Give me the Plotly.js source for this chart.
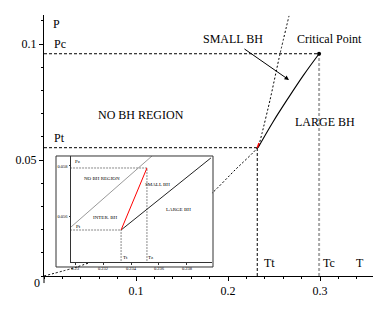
<!DOCTYPE html>
<html>
<head>
<meta charset="utf-8">
<script src="https://cdn.plot.ly/plotly-3.0.1.min.js"></script>
<style>html,body{margin:0;padding:0;background:#fff}#chart{width:390px;height:310px}</style>
</head>
<body>
<div id="chart"></div>
<script>
// ---- main chart data (T, P) ----
var tripleT = 0.2318, tripleP = 0.0553;
var critT = 0.299, critP = 0.0958;
// dashed boundary curve (T, P)
var dashT = [0, 0.0359, 0.1043, 0.1804, 0.2076, 0.2326, 0.2370, 0.2457, 0.2565, 0.2663];
var dashP = [0, 0.0039, 0.0142, 0.0349, 0.0457, 0.0556, 0.0616, 0.0759, 0.0957, 0.1121];
// solid coexistence curve small/large BH
var coexT = [0.2326, 0.2489, 0.2658, 0.2823, 0.2990];
var coexP = [0.0553, 0.0664, 0.0769, 0.0867, 0.0958];
// tiny red segment
var redT = [0.2318, 0.2337];
var redP = [0.0553, 0.0573];
// axis ticks
var xTicks = [0.1, 0.2, 0.3];
var yTicks = [0.05, 0.1];

// ---- inset data ----
var inTt = 0.23329, inPt = 0.05544;
var inTz = 0.23514, inPz = 0.05792;
var inGrayT = [0.22971, 0.23550];
var inGrayP = [0.05556, 0.05840];
var inLargeT = [0.23329, 0.23971];
var inLargeP = [0.05544, 0.05832];
var inXTicks = [0.230, 0.232, 0.234, 0.236, 0.238];
var inYTicks = [0.054, 0.056, 0.058];

var FONT = 'Liberation Serif, Times New Roman, serif';
var dashStyle = '3px,2px';

var traces = [
  // main guides
  {x:[0, critT], y:[critP, critP], mode:'lines', line:{color:'#000', width:1, dash:dashStyle}},
  {x:[0, tripleT], y:[tripleP, tripleP], mode:'lines', line:{color:'#000', width:1, dash:dashStyle}},
  {x:[tripleT, tripleT], y:[0, tripleP], mode:'lines', line:{color:'#000', width:1, dash:dashStyle}},
  {x:[critT, critT], y:[0, critP], mode:'lines', line:{color:'#a8a8a8', width:2, dash:dashStyle}},
  // dashed curve
  {x:dashT, y:dashP, mode:'lines', line:{color:'#000', width:1, dash:'2px,2px', shape:'spline', smoothing:0.5}},
  // coexistence line
  {x:coexT, y:coexP, mode:'lines', line:{color:'#000', width:1.1, shape:'spline'}},
  {x:redT, y:redP, mode:'lines', line:{color:'#ff0000', width:1.5}},
  {x:[critT], y:[critP], mode:'markers', marker:{color:'#000', size:4}},
  // inset
  {x:[inXTicks[0]-0.001, inTz], y:[inPz, inPz], xaxis:'x2', yaxis:'y2', mode:'lines', line:{color:'#555', width:0.7, dash:'2px,1px'}},
  {x:[inXTicks[0]-0.001, inTt], y:[inPt, inPt], xaxis:'x2', yaxis:'y2', mode:'lines', line:{color:'#555', width:0.7, dash:'2px,1px'}},
  {x:[inTt, inTt], y:[0.05, inPt], xaxis:'x2', yaxis:'y2', mode:'lines', line:{color:'#555', width:0.7, dash:'2px,1px'}},
  {x:[inTz, inTz], y:[0.05, inPz], xaxis:'x2', yaxis:'y2', mode:'lines', line:{color:'#555', width:0.7, dash:'2px,1px'}},
  {x:inGrayT, y:inGrayP, xaxis:'x2', yaxis:'y2', mode:'lines', line:{color:'#999', width:1}},
  {x:inLargeT, y:inLargeP, xaxis:'x2', yaxis:'y2', mode:'lines', line:{color:'#222', width:1}},
  {x:[inTt, inTz], y:[inPt, inPz], xaxis:'x2', yaxis:'y2', mode:'lines', line:{color:'#ff0000', width:1}}
];

function lab(text, x, y, size, xa, ref){
  return {text:text, x:x, y:y, xref:ref ? ref[0] : 'x', yref:ref ? ref[1] : 'y', showarrow:false,
          xanchor:xa || 'center', yanchor:'middle', font:{family:FONT, size:size, color:'#000'}};
}
var I = ['x2','y2'];
var annotations = [
  lab('P', 0.0141, 0.1086, 12),
  lab('Pc', 0.0087, 0.1000, 12, 'left'),
  lab('Pt', 0.0087, 0.0595, 12, 'left'),
  lab('NO BH REGION', 0.1054, 0.0694, 12),
  lab('SMALL BH', 0.2054, 0.1022, 12),
  lab('Critical Point', 0.3098, 0.1022, 12),
  lab('LARGE BH', 0.3054, 0.0664, 12),
  lab('Tt', 0.2446, 0.0056, 12),
  lab('Tc', 0.3098, 0.0056, 12),
  lab('T', 0.3435, 0.0056, 12),
  {text:'0', x:-0.022, y:-0.027, xref:'paper', yref:'paper', showarrow:false, xanchor:'center', yanchor:'middle', font:{family:FONT, size:12, color:'#000'}},
  {text:'', x:0.2663, y:0.0845, xref:'x', yref:'y', showarrow:true, ax:-46, ay:-32, arrowhead:2, arrowsize:0.9, arrowwidth:1, arrowcolor:'#000'},
  lab('Pz', 0.23021, 0.05816, 5, 'center', I),
  lab('NO BH REGION', 0.23193, 0.05748, 5, 'center', I),
  lab('SMALL BH', 0.23586, 0.05724, 5, 'center', I),
  lab('INTER. BH', 0.23214, 0.05596, 5, 'center', I),
  lab('LARGE BH', 0.23736, 0.05628, 5, 'center', I),
  lab('Pt', 0.23021, 0.05560, 5, 'center', I),
  lab('Tt', 0.23357, 0.05436, 5, 'center', I),
  lab('Tz', 0.23543, 0.05436, 5, 'center', I)
];

var layout = {
  width:390, height:310,
  margin:{l:44, r:17, t:15, b:34},
  paper_bgcolor:'#fff', plot_bgcolor:'#fff',
  showlegend:false,
  font:{family:FONT, size:12, color:'#000'},
  xaxis:{domain:[0,1], range:[0, 0.3576], showgrid:false, zeroline:false, showline:true, linecolor:'#000', linewidth:1,
         tickmode:'array', tickvals:xTicks, ticks:'outside', ticklen:4, tickcolor:'#000', tickwidth:1,
         minor:{tickmode:'linear', tick0:0, dtick:0.02, ticks:'outside', ticklen:2, tickcolor:'#000'},
         tickfont:{family:FONT, size:12}},
  yaxis:{domain:[0,1], range:[0, 0.1125], showgrid:false, zeroline:false, showline:true, linecolor:'#000', linewidth:1,
         tickmode:'array', tickvals:yTicks, ticks:'outside', ticklen:4, tickcolor:'#000', tickwidth:1,
         minor:{tickmode:'linear', tick0:0, dtick:0.01, ticks:'outside', ticklen:2, tickcolor:'#000'},
         tickfont:{family:FONT, size:12}},
  xaxis2:{domain:[0.0821, 0.5106], anchor:'y2', range:[0.22971, 0.23979], showgrid:false, zeroline:false,
          showline:true, linecolor:'#333', linewidth:1, tickmode:'array', tickvals:inXTicks, ticks:'outside', ticklen:1.5,
          tickcolor:'#333', tickfont:{family:FONT, size:4.5}, ticklabelstandoff:0},
  yaxis2:{domain:[0.0536, 0.4598], anchor:'x2', range:[0.05416, 0.0584], showgrid:false, zeroline:false,
          showline:true, linecolor:'#333', linewidth:1, tickmode:'array', tickvals:inYTicks, ticks:'outside', ticklen:1.5,
          tickcolor:'#333', tickfont:{family:FONT, size:4.5}, ticklabelstandoff:0},
  shapes:[
    {type:'rect', xref:'paper', yref:'paper', x0:0.0365, x1:0.5137, y0:0.0345, y1:0.4598, line:{color:'#333', width:1}, layer:'above'},
    {type:'line', xref:'paper', yref:'paper', x0:0, x1:0, y0:0, y1:-0.027, line:{color:'#000', width:1}}
  ],
  annotations:annotations
};

Plotly.newPlot('chart', traces, layout, {staticPlot:true, displayModeBar:false});
</script>
</body>
</html>
